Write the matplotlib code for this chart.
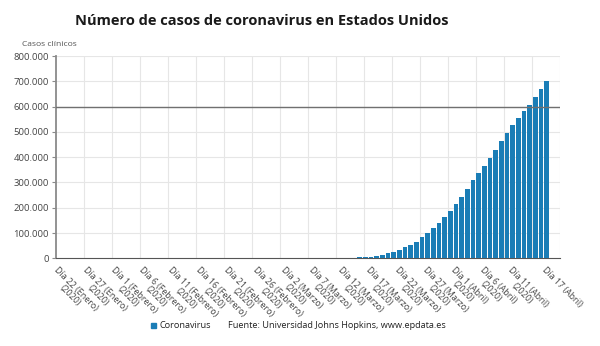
import matplotlib
matplotlib.use("Agg")
import matplotlib.pyplot as plt
import numpy as np
from matplotlib.ticker import FuncFormatter

plt.rcParams['font.family'] = ['Open Sans', 'DejaVu Sans']

title = "Número de casos de coronavirus en Estados Unidos"
y_title = "Casos clínicos"
series_name = "Coronavirus"
source = "Fuente: Universidad Johns Hopkins, www.epdata.es"

months_es = {1: "Enero", 2: "Febrero", 3: "Marzo", 4: "Abril"}
# (month, day) for each bar, Jan 22 .. Apr 17 2020
day_counts = [(1, range(22, 32)), (2, range(1, 30)), (3, range(1, 32)), (4, range(1, 18))]
days = [(m, d) for m, r in day_counts for d in r]

cases = [1, 1, 2, 2, 5, 5, 5, 5, 5, 7,
         8, 8, 11, 11, 11, 11, 11, 11, 11, 11, 12, 12, 13, 13, 13, 13, 13, 13, 13, 13,
         15, 15, 15, 51, 51, 57, 58, 60, 68,
         74, 98, 118, 149, 217, 262, 402, 518, 583, 959, 1281, 1663, 2179, 2727, 3499,
         4632, 6421, 7783, 13747, 19273, 25600, 33276, 43843, 53736, 65778, 83836,
         101657, 121465, 140909, 161831, 188172,
         213242, 243622, 275367, 308650, 336802, 366317, 397121, 428654, 462780,
         496535, 526396, 555313, 580619, 607670, 636350, 667801, 699706]

label_idx = list(range(0, 81, 5)) + [86]
y_ticks = [0, 100000, 200000, 300000, 400000, 500000, 600000, 700000, 800000]
ref_value = 600000

W, H = 600, 346
fig = plt.figure(figsize=(W / 100, H / 100), dpi=100)
ax_left, ax_right, ax_top, ax_bottom = 56, 560, 56, 258.3
ax = fig.add_axes([ax_left / W, 1 - ax_bottom / H, (ax_right - ax_left) / W, (ax_bottom - ax_top) / H])

x = np.arange(len(cases))
bar_color = '#1a7db6'
ax.bar(x, cases, width=0.82, color=bar_color, zorder=3)

spacing = 5.67
x0 = -(59 - ax_left) / spacing
x1 = (ax_right - 59) / spacing
ax.set_xlim(x0, x1)
ax.set_ylim(0, 800000)

# grid
for gx in np.linspace(x0, x1, 19)[1:]:
    ax.axvline(gx, color='#e6e6e6', lw=0.8, zorder=1)
for yv in y_ticks[1:]:
    ax.axhline(yv, color='#e6e6e6', lw=0.8, zorder=1)
ax.axhline(ref_value, color='#707070', lw=1.0, zorder=4)

for s in ['top', 'right']:
    ax.spines[s].set_visible(False)
ax.spines['left'].set_color('#8a8a8a')
ax.spines['left'].set_linewidth(1.3)
ax.spines['bottom'].set_color('#555555')
ax.spines['bottom'].set_linewidth(0.8)

ax.set_yticks(y_ticks)
ax.yaxis.set_major_formatter(FuncFormatter(lambda v, p: f"{int(v):,}".replace(",", ".")))
ax.tick_params(axis='y', labelsize=6.8, colors='#8a8a8a', labelcolor='#444444', length=3, width=0.8, pad=2)

labels = []
for i in label_idx:
    m, d = days[i]
    lab = f"Día {d} ({months_es[m]})"
    if i != label_idx[-1]:
        lab += "\n(2020)"
    labels.append(lab)
ax.set_xticks(label_idx)
ax.set_xticklabels(labels, rotation=-45, ha='left', va='top', rotation_mode='anchor',
                   multialignment='center', fontsize=6.4, color='#444444', linespacing=1.0)
ax.tick_params(axis='x', length=0, pad=5)

fig.text(261.5 / W, 1 - 21 / H, title, ha='center', va='center', fontsize=10.5,
         fontweight='bold', color='#1a1a1a')
fig.text(22 / W, 1 - 44 / H, y_title, ha='left', va='center', fontsize=6.1, color='#555555')

# legend
fig.patches.append(plt.Rectangle((151 / W, 1 - 328 / H), 5 / W, 5 / H, transform=fig.transFigure,
                                 color=bar_color))
fig.text(160 / W, 1 - 325 / H, series_name, ha='left', va='center', fontsize=6.6, color='#222222')
fig.text(228 / W, 1 - 325 / H, source, ha='left', va='center', fontsize=6.6, color='#222222')

fig.savefig("out.png", dpi=100)
